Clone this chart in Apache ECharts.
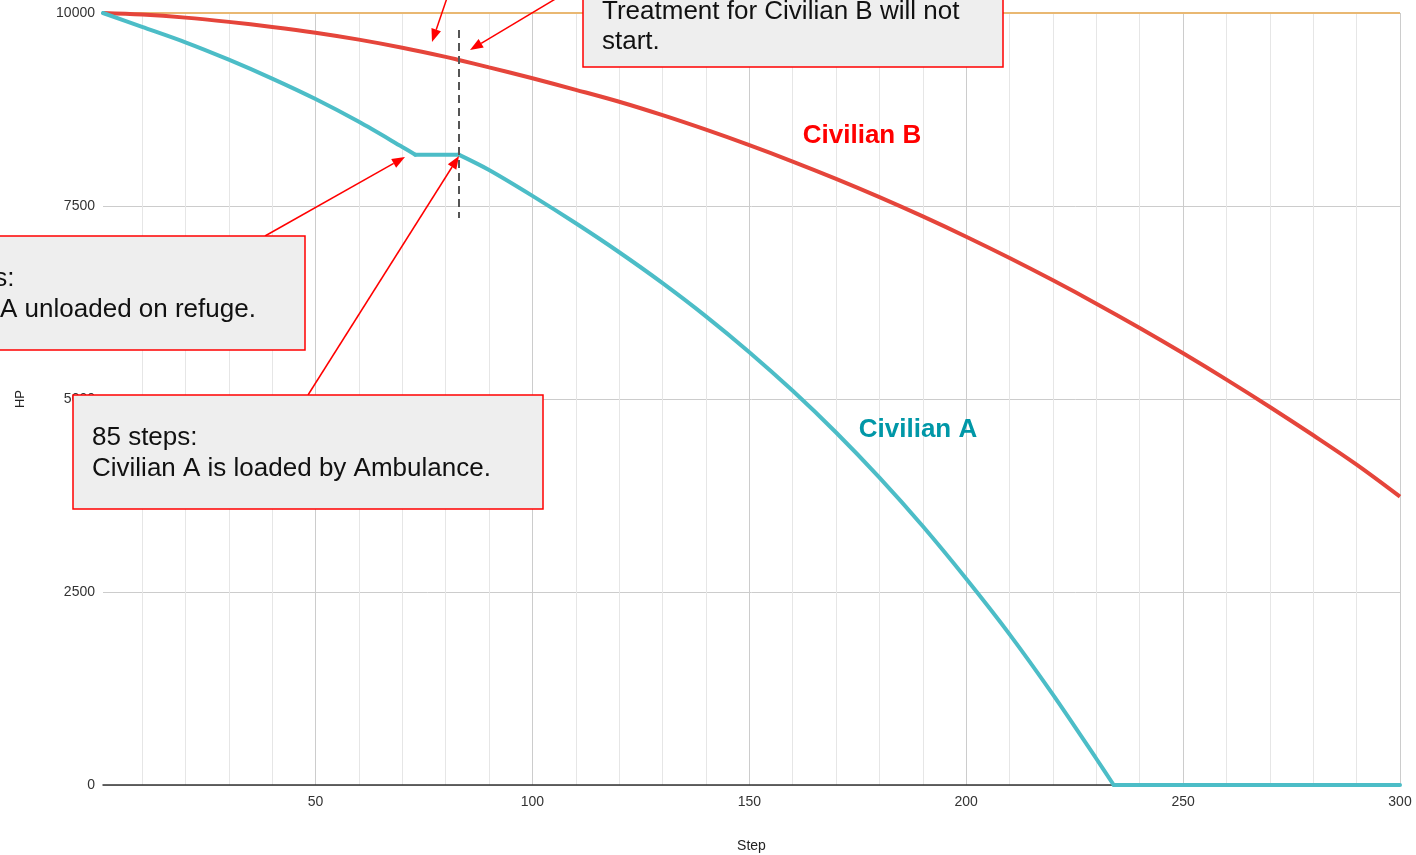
<!DOCTYPE html>
<html><head><meta charset="utf-8">
<script src="https://cdn.jsdelivr.net/npm/echarts@6/dist/echarts.min.js"></script>
<style>html,body{margin:0;padding:0;background:#fff}#c{width:1416px;height:855px}</style>
</head><body><div id="c"></div>
<script>
// ---- data ----
const stepsA = [1,10,20,30,40,50,60,70,73,83,90,100,110,120,130,140,150,160,170,180,190,200,210,220,230,234,300];
const hpA    = [10000,9820,9620,9395,9150,8885,8590,8265,8165,8165,7966,7631,7276,6901,6501,6071,5606,5106,4566,3981,3351,2671,1951,1170,340,0,0];
const kinkStepsA = [73,83,234];   // steps where Civilian A's curve changes abruptly
const stepsB = [1,10,20,30,40,50,60,70,80,83,90,100,110,120,130,140,150,160,170,180,190,200,210,220,230,240,250,260,270,280,290,300];
const hpB    = [10000,9980,9940,9885,9820,9745,9655,9550,9432,9392,9295,9155,9005,8850,8676,8488,8288,8076,7852,7615,7365,7102,6826,6537,6235,5920,5592,5251,4897,4530,4150,3735];
const stepsC = [1,300];
const hpC    = [10000,10000];
const xTickValues  = [10,20,30,40,50,60,70,80,90,100,110,120,130,140,150,160,170,180,190,200,210,220,230,240,250,260,270,280,290,300];
const xLabelValues = [50,100,150,200,250,300];
const markerStep = 83;
const markerRange = [9780, 7345];

const pair = (xs, ys) => xs.map((x, i) => [x, ys[i]]);
const FONT = '"Liberation Sans", Arial, sans-serif';

// split Civilian A at its kinks so each piece can be smoothed on its own
function splitAt(points, kinks) {
  const parts = [];
  let cur = [];
  points.forEach(p => {
    cur.push(p);
    if (kinks.indexOf(p[0]) >= 0 && cur.length > 1) { parts.push(cur); cur = [p]; }
  });
  if (cur.length > 1) parts.push(cur);
  return parts;
}
const partsA = splitAt(pair(stepsA, hpA), kinkStepsA);

const chart = echarts.init(document.getElementById('c'), null, {renderer: 'canvas'});

function arrow(x1, y1, x2, y2) {
  const dx = x2 - x1, dy = y2 - y1, len = Math.hypot(dx, dy);
  const ux = dx / len, uy = dy / len, nx = -uy, ny = ux;
  const L = 13, W = 5;
  const bx = x2 - L * ux, by = y2 - L * uy;
  return [
    {type: 'polyline', z: 100, shape: {points: [[x1, y1], [bx, by]]}, style: {stroke: '#ff0000', lineWidth: 1.5, fill: null}},
    {type: 'polygon', z: 100, shape: {points: [[x2, y2], [bx + W * nx, by + W * ny], [bx - W * nx, by - W * ny]]}, style: {fill: '#ff0000'}}
  ];
}
function box(x, y, w, h) {
  return {type: 'rect', z: 101, shape: {x, y, width: w, height: h}, style: {fill: '#eeeeee', stroke: '#ff0000', lineWidth: 1.5}};
}
function txt(x, y, s) {
  return {type: 'text', z: 102, x, y, style: {text: s, font: '26px ' + FONT, fill: '#111', textAlign: 'left', textVerticalAlign: 'middle'}};
}

const graphics = [].concat(
  arrow(447, -2, 432, 42),
  arrow(557, -2, 470, 50),
  arrow(265, 236, 405, 157),
  arrow(308, 395, 459, 156),
  [
    box(583, -20, 420, 87),
    txt(602, 12, 'Treatment for Civilian B will not'),
    txt(602, 42, 'start.'),
    box(-110, 236, 415, 114),
    txt(-91, 279, '73 steps:'),
    txt(-91, 310, 'Civilian A unloaded on refuge.'),
    box(73, 395, 470, 114),
    txt(92, 438, '85 steps:'),
    txt(92, 469, 'Civilian A is loaded by Ambulance.'),
    {type: 'text', z: 102, x: 862, y: 136, style: {text: 'Civilian B', font: 'bold 26px ' + FONT, fill: '#ff0000', textAlign: 'center', textVerticalAlign: 'middle'}},
    {type: 'text', z: 102, x: 918, y: 430, style: {text: 'Civilian A', font: 'bold 26px ' + FONT, fill: '#0097a7', textAlign: 'center', textVerticalAlign: 'middle'}}
  ]
);

const seriesA = partsA.map(part => ({
  name: 'Civilian A', type: 'line', data: part, symbol: 'none', z: 3,
  smooth: part.length > 2 ? 0.3 : false,
  lineStyle: {color: '#4cbdc7', width: 4, cap: 'round', join: 'round'}, itemStyle: {color: '#4cbdc7'}
}));

chart.setOption({
  animation: false,
  backgroundColor: '#ffffff',
  grid: {left: 103, right: 16, top: 13, bottom: 70, containLabel: false, outerBoundsMode: 'none'},
  xAxis: {
    type: 'value', min: 1, max: 300,
    name: 'Step', nameLocation: 'middle', nameGap: 54,
    nameTextStyle: {fontFamily: FONT, fontSize: 14, color: '#222'},
    axisLine: {show: true, onZero: false, lineStyle: {color: '#333', width: 1.5}},
    axisTick: {show: false, customValues: xTickValues},
    axisLabel: {customValues: xLabelValues, fontFamily: FONT, fontSize: 14, color: '#333', margin: 10,
                formatter: v => String(v)},
    splitLine: {show: true, lineStyle: {color: ['#e6e6e6', '#e6e6e6', '#e6e6e6', '#e6e6e6', '#cccccc'], width: 1}}
  },
  yAxis: {
    type: 'value', min: 0, max: 10000, interval: 2500,
    name: 'HP', nameLocation: 'middle', nameGap: 76,
    nameTextStyle: {fontFamily: FONT, fontSize: 13, color: '#222'},
    axisLine: {show: false}, axisTick: {show: false},
    axisLabel: {fontFamily: FONT, fontSize: 14, color: '#333', margin: 8, formatter: v => String(v)},
    splitLine: {show: true, lineStyle: {color: '#cccccc', width: 1}}
  },
  series: [
    {name: 'Full HP', type: 'line', data: pair(stepsC, hpC), symbol: 'none', z: 1,
     lineStyle: {color: '#e9b872', width: 2}, itemStyle: {color: '#e9b872'}},
    {name: 'Civilian B', type: 'line', data: pair(stepsB, hpB), symbol: 'none', z: 2, smooth: 0.35,
     lineStyle: {color: '#e5453b', width: 4}, itemStyle: {color: '#e5453b'},
     markLine: {silent: true, symbol: ['none', 'none'], label: {show: false},
       lineStyle: {color: '#555', width: 2, type: [8, 5]},
       data: [[{coord: [markerStep, markerRange[0]]}, {coord: [markerStep, markerRange[1]]}]]}}
  ].concat(seriesA),
  graphic: graphics
});
</script>
</body></html>
